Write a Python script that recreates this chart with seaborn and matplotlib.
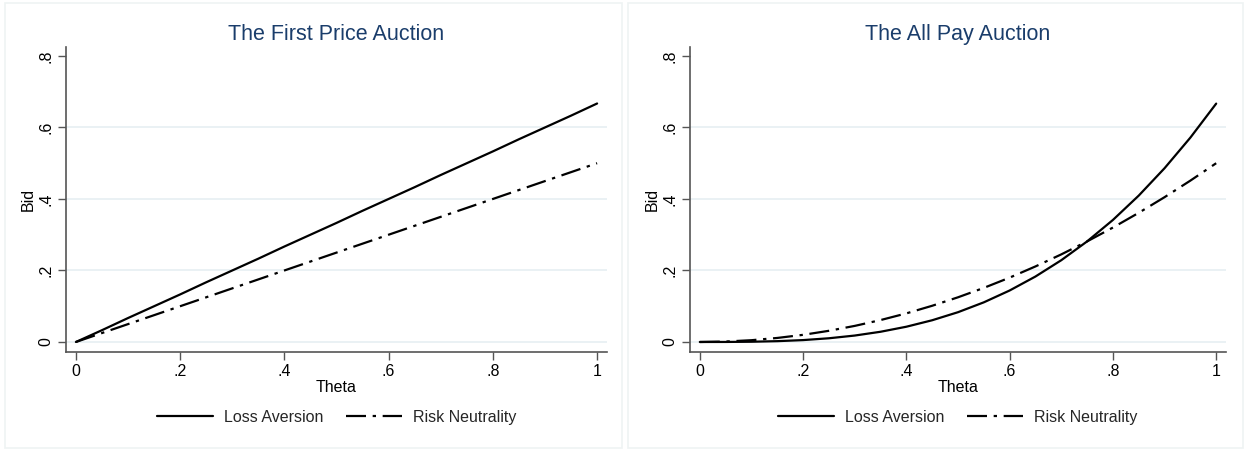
import matplotlib
matplotlib.use("Agg")
import matplotlib.pyplot as plt
import seaborn as sns
import pandas as pd
from matplotlib.patches import Rectangle
from matplotlib.lines import Line2D

# ---- data ----
theta = [0, .05, .1, .15, .2, .25, .3, .35, .4, .45, .5, .55, .6, .65, .7, .75, .8, .85, .9, .95, 1]
fpa_loss = [0, .033, .067, .100, .133, .167, .200, .233, .267, .300, .333, .367, .400, .433,
            .467, .500, .533, .567, .600, .633, .667]
fpa_risk = [0, .025, .050, .075, .100, .125, .150, .175, .200, .225, .250, .275, .300, .325,
            .350, .375, .400, .425, .450, .475, .500]
apa_loss = [0, .0001, .0007, .0023, .0053, .0104, .018, .0286, .0427, .0608, .0833, .1109,
            .144, .1831, .2287, .2813, .3413, .4094, .486, .5716, .6667]
apa_risk = [0, .0013, .005, .0113, .02, .0313, .045, .0613, .08, .1013, .125, .1513, .18,
            .2113, .245, .2813, .32, .3613, .405, .4513, .5]
titles = ["The First Price Auction", "The All Pay Auction"]
series_names = ["Loss Aversion", "Risk Neutrality"]
xticks = [0, .2, .4, .6, .8, 1]
xticklabels = ["0", ".2", ".4", ".6", ".8", "1"]
yticks = [0, .2, .4, .6, .8]
yticklabels = ["0", ".2", ".4", ".6", ".8"]

sns.set_theme(style="white")
plt.rcParams["font.family"] = ["Liberation Sans", "DejaVu Sans"]

fig = plt.figure(figsize=(12.45, 4.5), dpi=100)

# faint panel frames
for x0, w in [(5 / 1245, 617 / 1245), (628 / 1245, 615 / 1245)]:
    fig.patches.append(Rectangle((x0, 0.004), w, 0.99, transform=fig.transFigure,
                                 fill=False, edgecolor="#eff3f3", lw=1.2, zorder=0))

axes_pos = [[66 / 1245, 98 / 450, 541 / 1245, 305 / 450],
            [690 / 1245, 98 / 450, 536 / 1245, 305 / 450]]

data_sets = [(fpa_loss, fpa_risk), (apa_loss, apa_risk)]
dash_dot = (0, (9, 3, 1.5, 3))
title_color = "#1a3d6b"
grid_color = "#e6eff2"

for pos, title, (la, rn) in zip(axes_pos, titles, data_sets):
    ax = fig.add_axes(pos)
    df = pd.DataFrame({"theta": theta * 2,
                       "bid": la + rn,
                       "series": [series_names[0]] * len(theta) + [series_names[1]] * len(theta)})
    for name, ls in zip(series_names, ["-", dash_dot]):
        sub = df[df.series == name]
        sns.lineplot(data=sub, x="theta", y="bid", ax=ax, color="black", lw=1.6,
                     linestyle=ls, legend=False, zorder=3)
    ax.set_xlim(-0.019, 1.019)
    ax.set_ylim(-0.028, 0.825)
    for yv in yticks[:-1]:
        ax.axhline(yv, color=grid_color, lw=1.2, zorder=1)
    ax.set_xticks(xticks)
    ax.set_xticklabels(xticklabels)
    ax.set_yticks(yticks)
    ax.set_yticklabels(yticklabels, rotation=90, va="center")
    ax.tick_params(axis="both", direction="out", length=6, width=1, color="#555555",
                   labelsize=11.5, labelcolor="black", bottom=True, left=True, pad=3)
    for s in ["top", "right"]:
        ax.spines[s].set_visible(False)
    for s in ["left", "bottom"]:
        ax.spines[s].set_color("#555555")
        ax.spines[s].set_linewidth(1.2)
    ax.set_xlabel("Theta", fontsize=11.5, color="black", labelpad=0)
    ax.set_ylabel("Bid", fontsize=11.5, color="black", labelpad=2)
    ax.set_title(title, fontsize=15.5, color=title_color, pad=5)
    handles = [Line2D([], [], color="black", lw=1.6, linestyle="-"),
               Line2D([], [], color="black", lw=1.6, linestyle=dash_dot)]
    ax.legend(handles, series_names, loc="center", bbox_to_anchor=(0.5, -0.215),
              ncol=2, frameon=False, fontsize=11.5, handlelength=3.5,
              handletextpad=0.7, columnspacing=1.4)

fig.savefig("out.png", dpi=100, facecolor="white")
